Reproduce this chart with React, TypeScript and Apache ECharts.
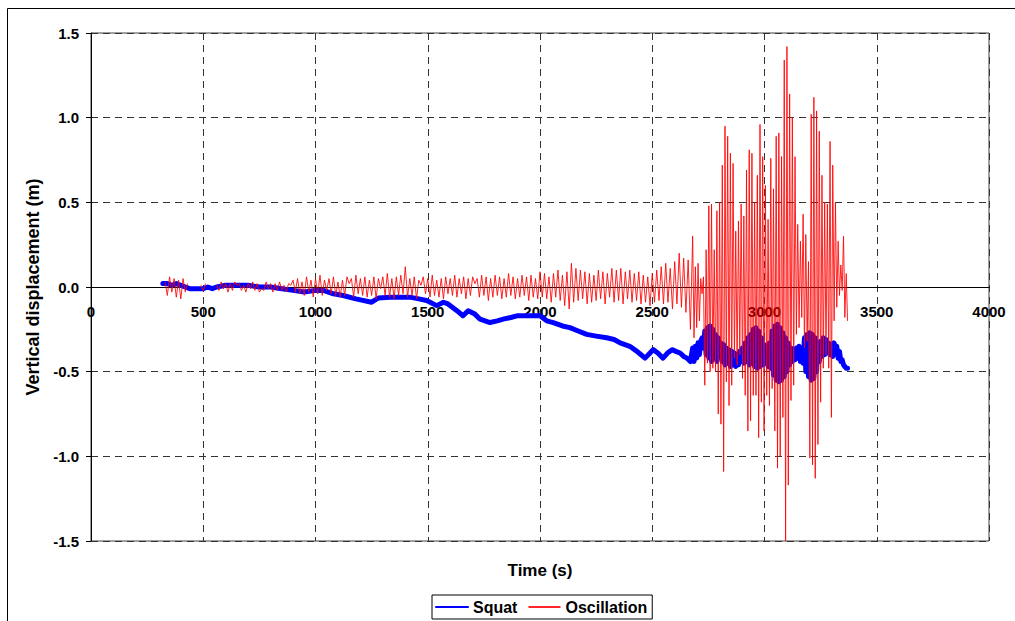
import React, { useEffect, useRef } from "react";
import * as echarts from "echarts";

const SERIES_NAMES = ["Squat", "Oscillation"];
const X_TITLE = "Time (s)";
const Y_TITLE = "Vertical displacement (m)";
const X_MIN = 0;
const X_MAX = 4000;
const X_INTERVAL = 500;
const Y_MIN = -1.5;
const Y_MAX = 1.5;
const Y_INTERVAL = 0.5;

// Squat: slow part, explicit sample times (s) and values (m)
const squatLowTimes = [
  320, 340, 360, 380, 400, 420, 440, 460, 480, 500, 520, 540, 560, 600, 650, 700, 750, 800, 850, 900,
  950, 1000, 1035, 1080, 1123, 1180, 1250, 1280, 1332, 1380, 1420, 1460, 1495, 1540, 1570, 1590, 1630,
  1657, 1680, 1710, 1733, 1777, 1810, 1836, 1870, 1897, 1940, 1970, 2000, 2030, 2059, 2100, 2133, 2170,
  2208, 2250, 2297, 2330, 2357, 2400, 2432, 2450, 2468, 2490, 2504, 2525, 2548, 2568, 2588, 2605, 2624,
  2640, 2655, 2670,
];
const squatLowValues = [
  0.02, 0.02, 0.01, 0.02, 0.01, 0.0, -0.01, -0.01, -0.01, -0.01, 0.0, -0.01, 0.0, 0.01, 0.01, 0.01, 0.0, 0.0, -0.01, -0.02,
  -0.03, -0.02, -0.02, -0.04, -0.05, -0.07, -0.09, -0.065, -0.06, -0.06, -0.06, -0.07, -0.08, -0.11, -0.09, -0.1, -0.14,
  -0.17, -0.14, -0.16, -0.19, -0.21, -0.2, -0.19, -0.18, -0.17, -0.17, -0.17, -0.17, -0.2, -0.21, -0.23, -0.24, -0.26,
  -0.28, -0.29, -0.3, -0.31, -0.33, -0.35, -0.38, -0.4, -0.42, -0.39, -0.37, -0.39, -0.42, -0.39, -0.37, -0.38, -0.39,
  -0.41, -0.42, -0.44,
];
// Squat: oscillating part, sampled every 6 s from 2680 s
const squatHighStart = 2680;
const squatHighStep = 6;
const squatHighValues = [
  -0.36, -0.44, -0.35, -0.42, -0.33, -0.4, -0.32,
  -0.3, -0.36, -0.26, -0.4, -0.24, -0.42, -0.23, -0.44, -0.25, -0.42, -0.28, -0.44, -0.3, -0.4,
  -0.33, -0.44, -0.34, -0.46, -0.36, -0.45, -0.37, -0.47, -0.38, -0.46, -0.39, -0.47, -0.4, -0.46, -0.38, -0.44, -0.36, -0.45, -0.33, -0.44, -0.3, -0.46, -0.28,
  -0.45, -0.25, -0.47, -0.24, -0.48, -0.26, -0.47, -0.3, -0.46, -0.34,
  -0.45, -0.36, -0.47, -0.33,
  -0.48, -0.26, -0.52, -0.23, -0.55, -0.22, -0.56, -0.24, -0.55, -0.27, -0.53, -0.3, -0.5, -0.33, -0.46,
  -0.36, -0.44, -0.37, -0.43, -0.36, -0.42, -0.35, -0.44, -0.36, -0.45,
  -0.3, -0.5, -0.28, -0.53, -0.27, -0.55, -0.28, -0.54, -0.3, -0.5, -0.33,
  -0.44, -0.32, -0.41, -0.3, -0.4, -0.31, -0.39, -0.33, -0.4, -0.34,
  -0.41, -0.33, -0.39, -0.35, -0.42, -0.38, -0.44, -0.43, -0.46, -0.47, -0.48, -0.48,
];

// Oscillation: quiet part, sampled every 10 s from 330 s (null = no data)
const oscLowStart = 330;
const oscLowStep = 10;
const oscLowValues = [
  0.03, -0.05, 0.06, -0.03, 0.05, -0.06, 0.04, -0.07, 0.05, -0.03,
  0.02, null, null, null, null, null, 0.01, -0.02, 0.02, null,
  null, null, null, 0.01, -0.02, 0.03, -0.01, 0.02, -0.03, 0.02,
  -0.02, 0.03, 0.01, 0.02, -0.02, 0.01, -0.03, 0.02, -0.01, 0.03,
  -0.02, 0.02, -0.03, -0.01, -0.02, 0.03, -0.01, 0.02, -0.03, 0.02,
  -0.02, 0.03, -0.02, 0.01, -0.03, 0.02, 0.01, 0.04, -0.03, 0.05,
  -0.04, 0.03, -0.05, 0.06, -0.03, 0.04, -0.06, 0.05, -0.04, 0.07,
  -0.05, 0.04, -0.02, 0.05, -0.04, 0.06, -0.05, 0.03, -0.06, 0.04,
  -0.05, 0.06, 0.02, 0.05, -0.06, 0.07, -0.04, 0.05, -0.05, 0.06,
  -0.06, 0.04, -0.05, 0.06, -0.07, 0.05, -0.01, 0.06, -0.05, 0.08,
  -0.06, 0.05, -0.07, 0.06, -0.05, 0.07, -0.04, 0.12, -0.06, 0.05,
  -0.05, 0.06, -0.07, 0.04, 0.01, 0.06, -0.04, 0.05, -0.06, 0.07,
  -0.05, 0.04, -0.06, 0.05, -0.07, 0.06, -0.04, 0.05, -0.05, 0.07,
  -0.06, 0.05, -0.04, 0.06, -0.07, 0.05, -0.05, 0.06, 0.02, 0.05,
  -0.06, 0.07, -0.05, 0.06, -0.08, 0.05, -0.06, 0.07, -0.05, 0.06,
  -0.07, 0.05, -0.06, 0.08, -0.05, 0.06, -0.07, 0.05, -0.06, 0.07,
  -0.05, 0.06, -0.08, 0.07, -0.06, 0.05, -0.07, 0.09, -0.06, 0.08,
  -0.07, 0.06, -0.09, 0.08, -0.06, 0.1, -0.08, 0.07, -0.11, 0.09,
  -0.13, 0.14, -0.09, 0.11, -0.08, 0.1, -0.07, 0.09, -0.1, 0.08,
  -0.09, 0.07, -0.08, 0.1, -0.07, 0.09, -0.1, 0.08, -0.06, 0.11,
  -0.09, 0.1, -0.08, 0.11, -0.1, 0.09, -0.07, 0.1, -0.09, 0.08,
  -0.08, 0.09, -0.1, 0.07, -0.09, 0.06, -0.11, 0.08, -0.09, 0.1,
  -0.08, 0.12, -0.1, 0.14, -0.09, 0.11, -0.13, 0.15, -0.1, 0.2,
  -0.12, 0.17, -0.15, 0.16, -0.25,
];
// Oscillation: strong part, sampled every 6 s from 2680 s
const oscHighStart = 2680;
const oscHighStep = 6;
const oscHighValues = [
  0.3, -0.3, 0.12, -0.24, 0.14, -0.2, 0.05, -0.04, 0.06, -0.58,
  0.22, -0.45, 0.48, -0.5, 0.49, -0.48, 0.22, -0.5, 0.45, -0.75,
  0.5, -0.81, 0.72, -1.09, 0.95, -0.56, 0.89, -0.7, 0.79, -0.58,
  0.73, -0.42, 0.33, -0.46, 0.39, -0.4, 0.49, -0.54, 0.42, -0.64,
  0.69, -0.85, 0.81, -0.79, 0.79, -0.64, 0.5, -0.64, 0.66, -0.89,
  0.96, -0.68, 0.77, -0.85, 0.6, -0.64, 0.4, -0.7, 0.76, -0.6,
  0.58, -0.85, 0.89, -1.07, 0.91, -1.0, 0.77, -0.77, 1.34, -1.5,
  1.42, -1.17, 1.14, -0.67, 1.0, -0.58, 0.77, -0.28, 0.37, -0.24,
  0.27, -0.18, 0.43, -0.36, 0.31, -0.32, 0.15, -1.01, 1.02, -1.05,
  1.12, -1.13, 1.04, -0.93, 0.92, -0.68, 0.66, -0.48, 0.5, -0.4,
  0.49, -0.48, 0.86, -0.77, 0.72, -0.2, 0.5, -0.12, 0.27, -0.05,
  0.13, -0.02, 0.3, -0.18, 0.08, -0.2,
];

const FONT = "'Liberation Sans', Arial, sans-serif";

export default function App() {
  const ref = useRef<HTMLDivElement>(null);

  useEffect(() => {
    document.body.style.margin = "0";
    if (!ref.current) return;
    const chart = echarts.init(ref.current, undefined, { renderer: "svg" });

    const squatData: [number, number][] = [];
    squatLowTimes.forEach((t, i) => squatData.push([t, squatLowValues[i]]));
    squatHighValues.forEach((v, i) => squatData.push([squatHighStart + i * squatHighStep, v]));

    const oscData: [number, number | null][] = [];
    oscLowValues.forEach((v, i) => oscData.push([oscLowStart + i * oscLowStep, v]));
    oscHighValues.forEach((v, i) => oscData.push([oscHighStart + i * oscHighStep, v]));

    const gridTop = 33;
    const gridBottom = 80;
    const plotHeight = 621 - gridTop - gridBottom;
    const zeroOffset = -plotHeight * ((0 - Y_MIN) / (Y_MAX - Y_MIN));

    chart.setOption({
      animation: false,
      backgroundColor: "#fff",
      grid: {
        left: 91,
        right: 26,
        top: gridTop,
        bottom: gridBottom,
        show: true,
        borderColor: "#404040",
        borderWidth: 1,
        backgroundColor: "transparent",
      },
      graphic: [
        {
          type: "rect",
          shape: { x: 7.5, y: 8.5, width: 1030, height: 640 },
          style: { fill: "none", stroke: "#000", lineWidth: 1 },
          silent: true,
          z: -1,
        },
        {
          type: "text",
          x: 540,
          y: 570,
          style: {
            text: X_TITLE,
            font: `bold 17px ${FONT}`,
            fill: "#000",
            align: "center",
            verticalAlign: "middle",
          },
        },
      ],
      legend: {
        data: SERIES_NAMES,
        left: 432,
        top: 595,
        orient: "horizontal",
        itemWidth: 32,
        itemHeight: 10,
        itemGap: 10,
        padding: [4, 5, 4, 3],
        borderColor: "#000",
        borderWidth: 1,
        backgroundColor: "#fff",
        itemStyle: { opacity: 0 },
        textStyle: { fontFamily: FONT, fontWeight: "bold", fontSize: 16, color: "#000" },
      },
      xAxis: {
        type: "value",
        min: X_MIN,
        max: X_MAX,
        interval: X_INTERVAL,
        offset: zeroOffset,
        axisLine: { show: true, onZero: false, lineStyle: { color: "#000", width: 1 } },
        axisTick: { show: false },
        axisLabel: {
          margin: 17,
          fontFamily: FONT,
          fontWeight: "bold",
          fontSize: 15,
          color: "#000",
          formatter: (v: number) => String(v),
        },
        splitLine: {
          show: true,
          lineStyle: { color: "#333", type: [7, 5], width: 1 },
        },
      },
      yAxis: {
        type: "value",
        min: Y_MIN,
        max: Y_MAX,
        interval: Y_INTERVAL,
        name: Y_TITLE,
        nameLocation: "middle",
        nameGap: 49,
        nameTextStyle: { fontFamily: FONT, fontWeight: "bold", fontSize: 18, color: "#000" },
        axisLine: { show: true, onZero: false, lineStyle: { color: "#000", width: 1 } },
        axisTick: { show: true, length: 5, lineStyle: { color: "#000" } },
        axisLabel: {
          margin: 12,
          fontFamily: FONT,
          fontWeight: "bold",
          fontSize: 15,
          color: "#000",
          formatter: (v: number) => v.toFixed(1),
        },
        splitLine: {
          show: true,
          lineStyle: { color: "#333", type: [7, 5], width: 1 },
        },
      },
      series: [
        {
          name: SERIES_NAMES[0],
          type: "line",
          data: squatData,
          symbol: "none",
          showSymbol: false,
          color: "#0000FF",
          lineStyle: { color: "#0000FF", width: 5, join: "round", cap: "round" },
          z: 2,
        },
        {
          name: SERIES_NAMES[1],
          type: "line",
          data: oscData,
          symbol: "none",
          showSymbol: false,
          connectNulls: false,
          color: "#FF0000",
          lineStyle: { color: "#FF0000", width: 1, opacity: 0.85 },
          z: 3,
        },
      ],
    });

    return () => {
      chart.dispose();
    };
  }, []);

  return <div ref={ref} style={{ width: 1015, height: 621 }} />;
}
